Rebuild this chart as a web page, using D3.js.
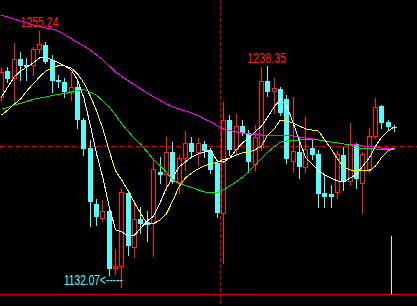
<!DOCTYPE html>
<html>
<head>
<meta charset="utf-8">
<script src="https://cdn.jsdelivr.net/npm/d3@7"></script>
<style>
body { margin: 0; background: #000; }
svg { display: block; }
</style>
</head>
<body>
<svg width="417" height="306"></svg>
<script>
var opens = [1223.5,1236.0,1232.6,1241.8,1238.9,1238.9,1246.6,1248.5,1241.3,1231.7,
  1230.7,1226.4,1228.3,1212.4,1199.0,1172.0,1165.3,1168.7,1141.2,1142.2,
  1177.3,1151.3,1164.8,1163.4,1162.9,1187.4,1186.4,1197.0,1182.6,1194.1,
  1201.4,1197.0,1200.9,1197.5,1191.7,1167.7,1212.4,1198.5,1209.5,1206.2,
  1191.3,1199.4,1231.2,1226.4,1227.3,1222.5,1192.7,1197.0,1189.8,1199.0,
  1196.1,1177.3,1176.8,1177.8,1195.6,1183.1,1200.9,1182.1,1188.9,1204.7,
  1219.2,1211.5,1209.1];
var highs = [1237.4,1237.9,1249.5,1245.2,1242.3,1247.6,1255.24,1250.0,1243.7,1234.1,
  1232.6,1235.5,1231.7,1213.4,1202.8,1174.4,1173.9,1170.1,1150.4,1179.7,
  1178.3,1173.9,1170.6,1168.7,1194.1,1194.6,1204.3,1201.9,1195.6,1207.1,
  1204.3,1203.8,1202.3,1199.0,1193.2,1221.1,1214.8,1215.3,1212.4,1207.6,
  1210.0,1238.0,1238.35,1232.6,1228.3,1224.5,1223.5,1203.8,1213.9,1203.8,
  1198.0,1186.4,1181.2,1197.5,1199.4,1211.0,1201.4,1197.0,1208.6,1223.0,
  1219.6,1212.4,1210.0];
var lows = [1222.1,1230.7,1222.1,1231.7,1231.7,1234.1,1244.7,1239.9,1225.9,1228.3,
  1223.5,1222.1,1208.6,1195.6,1161.4,1161.9,1163.8,1137.9,1138.3,1132.07,
  1147.5,1146.5,1158.1,1154.2,1147.0,1182.1,1178.8,1182.1,1177.3,1188.4,
  1194.6,1190.8,1194.6,1186.9,1165.8,1143.6,1195.6,1195.6,1205.2,1187.4,
  1188.4,1198.0,1224.0,1215.8,1214.8,1191.7,1187.4,1184.5,1187.4,1193.7,
  1170.6,1170.6,1170.6,1174.9,1178.8,1181.2,1179.7,1167.7,1187.4,1203.8,
  1208.6,1208.1,1207.1];
var closes = [1235.5,1232.2,1241.8,1238.4,1237.9,1246.6,1249.0,1240.3,1231.2,1230.7,
  1225.9,1228.3,1212.4,1198.5,1173.0,1165.8,1168.7,1140.7,1142.2,1177.8,
  1151.8,1164.8,1162.4,1161.9,1188.9,1186.0,1197.0,1182.6,1194.1,1201.4,
  1197.0,1201.4,1197.5,1188.4,1167.7,1212.4,1198.0,1209.5,1206.2,1192.2,
  1204.3,1231.2,1225.9,1227.8,1215.8,1193.7,1197.5,1189.8,1198.5,1195.6,
  1176.8,1175.4,1175.4,1196.1,1183.1,1200.9,1184.0,1196.1,1204.7,1218.7,
  1211.0,1209.1,1208.6];

// moving averages
var ma5 = [1223.5,1228.3,1233.1,1236.0,1237.9,1239.9,1242.3,1242.7,1241.3,1239.9,
  1238.4,1236.5,1231.7,1223.0,1210.0,1196.1,1184.5,1170.6,1159.5,1158.5,
  1156.6,1157.1,1160.5,1163.8,1166.2,1172.5,1179.7,1184.5,1189.8,1192.2,
  1194.6,1196.1,1197.0,1198.0,1192.7,1192.2,1194.1,1198.0,1201.4,1203.8,
  1206.7,1209.5,1213.9,1218.7,1222.5,1219.2,1211.0,1202.3,1194.1,1191.3,
  1187.9,1186.0,1184.5,1183.1,1182.6,1184.5,1186.4,1190.3,1194.1,1199.9,
  1204.3,1207.1,1209.1];
var ma10 = [1214.8,1217.2,1220.1,1222.5,1226.4,1229.8,1233.1,1236.0,1237.4,1238.6,
  1238.4,1237.4,1234.6,1230.2,1224.0,1216.8,1208.1,1197.5,1187.9,1183.3,
  1178.3,1172.5,1167.2,1162.4,1162.6,1164.3,1167.2,1173.5,1180.2,1184.5,
  1186.9,1188.9,1190.3,1191.3,1192.2,1193.4,1194.1,1195.6,1196.6,1197.0,
  1198.0,1199.9,1205.2,1208.1,1212.4,1211.9,1211.0,1209.5,1208.1,1207.6,
  1207.1,1202.8,1198.5,1193.7,1189.8,1188.4,1187.9,1187.9,1187.9,1190.3,
  1194.6,1197.5,1199.0];
var ma20 = [1217.7,1218.4,1219.6,1220.4,1221.3,1222.3,1223.0,1223.5,1224.2,1224.7,
  1225.2,1225.7,1226.6,1227.1,1225.9,1224.2,1221.6,1218.7,1214.8,1210.5,
  1206.9,1203.3,1200.6,1197.0,1193.2,1190.5,1187.4,1183.6,1181.9,1180.9,
  1179.9,1178.8,1177.8,1177.3,1177.3,1178.8,1180.7,1182.6,1184.8,1187.9,
  1190.8,1193.9,1197.0,1199.4,1201.8,1202.3,1202.6,1202.8,1202.8,1202.8,
  1202.8,1202.3,1201.8,1201.4,1200.9,1200.4,1199.4,1198.5,1198.5,1198.5,
  1198.2,1198.0,1198.0];
var ma60 = [1262.7,1262.0,1261.0,1260.1,1259.1,1258.1,1257.4,1256.7,1256.2,1255.2,
  1253.6,1251.6,1249.7,1248.0,1246.1,1243.7,1241.3,1238.4,1235.5,1233.3,
  1231.2,1229.3,1227.3,1225.4,1223.5,1222.0,1220.1,1218.7,1217.7,1216.8,
  1215.8,1214.6,1212.9,1211.5,1209.8,1208.1,1207.4,1206.7,1206.2,1205.7,
  1205.5,1205.2,1205.2,1205.2,1205.2,1205.2,1204.7,1204.2,1203.8,1203.3,
  1202.8,1202.3,1201.8,1201.4,1200.9,1200.4,1200.4,1199.9,1199.7,1199.4,
  1198.9,1198.7,1198.5];

var crossIndex = 34.5, crossPrice = 1199.9;
var markerIndex = 61.5, markerTop = 1156.6;

var upColor = "#ff2020", downColor = "#54fcfc";
var n = opens.length;
var svg = d3.select("svg");

var xScale = d3.scaleBand().domain(d3.range(n)).range([-1.67, -1.67 + n * 6.34]);
var yScale = d3.scaleLinear().domain([1132.07, 1255.24]).range([287, 31]);
var cx = function(i) { return xScale(i) + xScale.bandwidth() / 2; };
var cxf = function(v) { return -1.67 + 6.34 * (v + 0.5); };

svg.append("rect").attr("width", 417).attr("height", 306).attr("fill", "#000");

// crosshair
svg.append("line")
  .attr("x1", 0).attr("x2", 417)
  .attr("y1", Math.round(yScale(crossPrice)) + 0.5).attr("y2", Math.round(yScale(crossPrice)) + 0.5)
  .attr("stroke", "#d00000").attr("stroke-dasharray", "5,3");
svg.append("line")
  .attr("x1", Math.round(cxf(crossIndex)) + 0.5).attr("x2", Math.round(cxf(crossIndex)) + 0.5)
  .attr("y1", 0).attr("y2", 306)
  .attr("stroke", "#d00000").attr("stroke-dasharray", "4,2");

// pane bottom
svg.append("line")
  .attr("x1", 0).attr("x2", 417).attr("y1", 294.5).attr("y2", 294.5)
  .attr("stroke", "#d00000");

svg.append("line")
  .attr("x1", Math.round(cxf(markerIndex)) + 0.5).attr("x2", Math.round(cxf(markerIndex)) + 0.5)
  .attr("y1", yScale(markerTop)).attr("y2", 294)
  .attr("stroke", "#ffff00");

var data = d3.range(n).map(function(i) {
  return {i: i, o: opens[i], h: highs[i], l: lows[i], c: closes[i], up: closes[i] >= opens[i]};
});

var g = svg.append("g").attr("shape-rendering", "crispEdges");

g.selectAll(".wick")
  .data(data)
  .enter()
  .append("line")
  .attr("x1", (d) => Math.round(cx(d.i) - 2.5) + 2.5)
  .attr("x2", (d) => Math.round(cx(d.i) - 2.5) + 2.5)
  .attr("y1", (d) => Math.round(yScale(d.h)))
  .attr("y2", (d) => Math.round(yScale(d.l)) + 1)
  .attr("stroke", (d) => d.up ? upColor : downColor);

g.selectAll(".body")
  .data(data)
  .enter()
  .append("rect")
  .attr("x", (d) => Math.round(cx(d.i) - 2.5) + (d.up ? 0.5 : 0))
  .attr("width", (d) => d.up ? 4 : 5)
  .attr("y", (d) => d.up ? Math.round(yScale(d.c)) + 0.5 : Math.round(yScale(d.o)))
  .attr("height", function(d) {
    var hgt = Math.abs(Math.round(yScale(d.c)) - Math.round(yScale(d.o)));
    return Math.max(hgt, 1);
  })
  .attr("fill", (d) => d.up ? "#000" : downColor)
  .attr("stroke", (d) => d.up ? upColor : "none");

// moving average lines
var lines = [
  {vals: ma60, color: "#ff00ff"},
  {vals: ma20, color: "#00e000"},
  {vals: ma10, color: "#ffff00"},
  {vals: ma5, color: "#ffffff"}
];
var lineGen = d3.line()
  .x((d, i) => cx(i))
  .y((d) => yScale(d));

svg.selectAll(".ma")
  .data(lines)
  .enter()
  .append("path")
  .attr("d", (d) => lineGen(d.vals))
  .attr("fill", "none")
  .attr("stroke", (d) => d.color)
  .attr("stroke-width", 1)
  .attr("shape-rendering", "crispEdges");

// high / low marks
var fmt = d3.format(".2f");
var hiIdx = d3.maxIndex(highs);
var loIdx = d3.minIndex(lows);
var hi2Idx = 42;

svg.append("text")
  .attr("x", cx(hiIdx)).attr("y", yScale(highs[hiIdx]) - 4)
  .attr("text-anchor", "middle")
  .attr("textLength", 38).attr("lengthAdjust", "spacingAndGlyphs")
  .style("font", "14px 'Liberation Sans'").attr("fill", "#ff2020")
  .text(fmt(highs[hiIdx]));

svg.append("text")
  .attr("x", cx(hi2Idx) - 1).attr("y", yScale(highs[hi2Idx]) - 3)
  .attr("text-anchor", "middle")
  .attr("textLength", 39).attr("lengthAdjust", "spacingAndGlyphs")
  .style("font", "14px 'Liberation Sans'").attr("fill", "#ff2020")
  .text(fmt(highs[hi2Idx]));

svg.append("text")
  .attr("x", cx(loIdx) + 1).attr("y", yScale(lows[loIdx]) - 2)
  .attr("text-anchor", "end")
  .attr("textLength", 59).attr("lengthAdjust", "spacingAndGlyphs")
  .style("font", "14px 'Liberation Sans'").attr("fill", downColor)
  .text(fmt(lows[loIdx]) + "<-----");
</script>
</body>
</html>
